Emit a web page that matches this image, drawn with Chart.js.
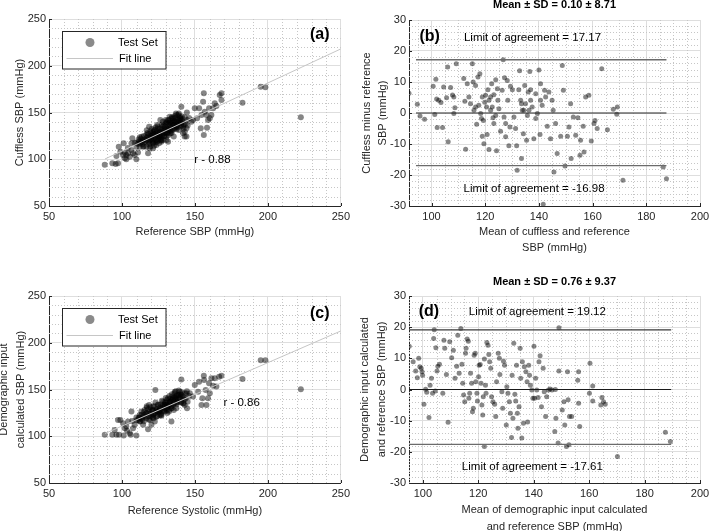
<!DOCTYPE html>
<html><head><meta charset="utf-8">
<script src="https://cdn.jsdelivr.net/npm/chart.js@4.4.1/dist/chart.umd.min.js"></script>
<style>
html,body{margin:0;padding:0;background:#fff;overflow:hidden;width:709px;height:531px;}
canvas{position:absolute;}
</style></head><body>
<canvas id="cA" width="354" height="265" style="left:0;top:0"></canvas>
<canvas id="cB" width="360" height="265" style="left:354px;top:0"></canvas>
<canvas id="cC" width="354" height="266" style="left:0;top:265px"></canvas>
<canvas id="cD" width="360" height="266" style="left:354px;top:265px"></canvas>
<script>
// ---------- DATA ----------
// (a) Test set: reference SBP vs cuffless SBP (mmHg)
const aRefSBP = [88.2,93.4,95.7,97.3,96.2,97.8,98.9,101.2,100.7,101.9,103.0,104.2,106.5,107.6,108.7,109.9,107.1,108.7,109.9,112.2,113.3,114.5,115.6,116.7,117.9,118.6,119.0,120.2,121.3,121.8,122.5,123.6,124.1,124.7,125.4,125.9,126.3,127.0,127.7,128.2,129.3,130.0,130.5,131.1,131.6,132.3,132.7,133.2,133.9,134.6,135.0,135.5,136.2,136.9,137.3,138.5,139.1,139.6,140.7,140.7,141.9,143.0,144.2,144.2,144.6,147.6,148.7,149.9,151.5,152.9,154.0,154.5,156.1,156.1,155.6,156.7,157.9,158.3,159.0,159.7,160.2,161.3,162.5,163.6,164.7,167.0,168.2,168.2,182.6,195.1,198.3,222.6,
111.0,112.2,114.5,116.7,117.9,119.0,120.2,121.3,122.5,123.6,124.7,125.9,127.0,128.2,129.3,130.5,131.6,132.7,133.9,135.0,136.2,137.3,138.5,139.6,140.7,141.9,143.0,116.7,119.0,121.3,123.6,127.0,130.5,131.6,106.5,105.3,103.0,111.0,
113.0,115.0,117.5,118.0,120.0,121.0,122.0,123.0,124.0,125.0,126.0,127.5,128.5,129.5,130.5,131.5,132.5,133.5,134.5,135.5,136.5,137.5,138.5,139.5,140.5,141.5,142.5,119.5,122.0,126.5,104.0,102.0,120.5,124.5,128.0,
110,111.5,112.5,113.5,114,115,116,117,118,118.5,119.5,120,120.8,121.5,122,122.8,123.5,124,124.8,125.5,126,126.8,127.3,128,128.8,129.5,130,130.8,131.3,132,132.5,133,133.6,134.2,134.8,135.4,136,136.6,137.2,137.8,138.3,139,139.8,140.3,141,141.6,142.2,143,143.6,144.5,145,146,112,119,126,133,121,129,136,140,124,131,138,115,127,134,117,123,130,137];
const aCufflessSBP = [94.2,95.6,94.9,95.6,103.5,113.5,108.1,117.0,104.5,101.0,99.9,106.3,117.0,106.3,104.5,99.9,122.4,117.7,113.5,123.4,118.8,113.5,121.3,125.9,106.3,134.8,120.6,127.7,117.0,124.2,131.3,120.6,136.6,127.7,117.0,129.5,142.0,124.2,134.8,120.6,131.3,138.4,124.2,127.7,142.0,133.1,145.5,127.7,138.4,131.3,143.8,124.2,140.2,134.8,147.3,142.0,131.3,143.8,156.2,136.6,127.7,124.2,124.2,133.1,142.0,140.2,142.0,154.5,143.8,154.5,133.1,147.3,170.5,125.9,161.6,150.9,147.3,133.8,142.0,154.5,143.8,147.3,154.5,159.8,157.0,168.7,170.5,163.4,160.5,177.6,176.9,144.8,
116.3,113.5,120.6,120.6,124.2,117.0,122.4,129.5,120.6,125.9,120.6,124.2,131.3,127.7,124.2,133.1,136.6,131.3,143.8,136.6,133.1,140.2,147.3,138.4,142.0,134.8,129.5,113.5,111.7,111.7,115.2,118.8,120.6,118.8,109.9,102.8,104.5,107.1,
122.0,118.0,128.0,119.0,125.0,120.0,127.0,118.0,130.0,123.0,133.0,126.0,136.0,129.0,140.0,131.0,139.0,134.0,141.0,137.0,144.0,135.0,139.0,146.0,139.0,143.0,137.0,114.0,114.5,120.5,112.0,107.0,132.5,135.0,140.0,
118,121,117,124,116,125,119,123,127,116,130,121,126,118,131,123,128,119,133,125,129,122,137,130,125,135,128,139,133,126,142,136,130,145,139,133,146,138,132,143,137,149,141,135,146,140,133,145,138,150,136,144,119,123,126,139,126,133,141,144,125,129,134,114,120,128,131,134,142,149];
const aFitX = [88.4, 250];
const aFitY = [100.3, 218];

// (b) Bland-Altman: mean of cuffless & reference vs difference
const bMeanSBP = [91.6,94.7,95.7,97.4,100.6,101.2,101.6,101.9,102.7,103.5,104.1,102.1,104.5,105.6,106.0,106.2,107.1,107.8,108.3,108.3,108.7,109.2,112.0,112.4,112.7,113.3,114.5,115.2,115.5,116.4,116.4,116.8,117.3,118.0,118.3,118.6,119.3,118.9,119.5,119.8,120.5,120.7,121.0,121.4,122.0,122.4,122.6,123.2,123.2,124.2,123.9,124.5,125.1,125.7,126.3,126.7,127.2,127.6,128.2,128.4,128.8,129.4,130.1,130.7,131.3,131.7,131.9,132.5,132.8,133.2,133.5,133.8,134.2,134.7,135.0,135.4,135.7,136.0,136.6,136.9,137.5,138.1,138.8,139.4,140.0,140.4,140.6,141.2,141.6,142.1,142.5,143.1,143.7,144.3,144.9,145.3,145.6,146.2,146.8,148.1,148.7,149.1,149.7,150.6,151.2,151.8,152.0,152.8,153.7,154.5,155.3,155.5,156.5,156.8,157.4,158.6,159.5,160.5,160.9,161.7,163.4,165.5,167.7,169.2,169.0,171.3,186.3,187.5,
120.1,121.4,122.0,122.9,123.9,124.7,127.0,127.6,129.2,133.5,134.4,136.3,136.9,138.8,140.6,118.9,117.6,115.8,113.9];
const bDiffSBP = [6.4,2.8,-1.0,-2.0,8.6,-0.5,10.9,4.5,4.1,3.4,-4.7,-4.7,8.4,4.9,14.8,-9.3,8.2,5.8,5.2,-0.2,1.7,15.9,11.1,3.8,-11.7,9.4,3.0,15.9,10.0,8.9,1.9,-3.6,11.6,12.7,-0.2,-1.8,-2.4,-7.5,-9.9,3.5,1.9,-6.9,7.5,-11.8,5.2,9.4,1.9,5.9,-3.4,-12.2,10.7,7.8,1.4,-5.9,7.3,17.2,11.4,-7.7,10.5,4.1,-10.6,8.6,7.5,-1.3,-5.0,-10.6,-18.5,7.5,13.6,4.1,-14.7,0.9,-6.7,8.9,3.0,-8.8,-0.8,6.8,13.4,7.5,1.9,-8.3,6.2,-0.2,13.9,-6.9,9.4,2.5,-29.4,7.3,5.2,-4.3,6.8,-8.3,4.1,0.9,-19.0,-3.4,-13.1,-7.5,15.3,7.3,-17.1,-7.5,-4.5,3.0,-14.7,-1.3,-7.2,-1.5,-13.6,-8.8,-4.3,-12.6,5.2,5.7,-9.0,-3.4,-2.4,-5.0,14.3,-5.4,1.2,1.9,-0.4,-21.7,-17.4,-21.2,
5.7,4.1,0.9,-1.5,-0.8,4.1,-1.3,-3.4,-4.5,3.0,0.9,0.9,4.1,-1.8,4.1,5.2,2.5,0.9,5.2];
const bLineX = [94.2, 187.5];
const bLineY = [0, 17.17, -16.98];

// (c) Test set: reference systolic vs demographic-input calculated SBP
const cRefSystolic = [88.2,93.4,96.2,98.0,101.2,106.0,109.9,95.0,97.3,98.9,100.7,101.9,103.0,104.2,106.5,107.1,108.7,109.9,111.0,112.2,113.3,114.5,115.6,116.7,117.9,118.6,119.0,120.2,121.3,122.5,122.9,123.6,124.7,125.9,127.0,128.2,129.3,130.5,131.6,132.3,133.2,133.9,134.6,135.0,136.2,136.9,137.3,138.5,139.6,140.7,140.7,141.9,143.0,144.2,144.6,146.5,148.7,149.9,152.2,152.9,154.5,155.1,156.1,156.3,157.4,157.9,159.0,159.7,160.2,161.3,162.5,163.6,164.7,166.6,168.2,182.6,195.1,198.3,222.6,
116.7,119.0,121.3,123.6,124.7,127.0,128.2,129.3,130.5,131.6,132.7,133.9,135.0,136.2,137.3,139.6,140.7,141.9,114.5,120.2,112.2,107.6,105.3,
113.5,115.5,118.0,120.5,122.0,124.0,125.5,126.5,128.5,130.0,131.0,132.5,134.0,135.5,136.5,138.0,139.0,142.5,117.0,121.5,103.5,
110,111.5,112.5,113.5,114,115,116,117,118,118.5,119.5,120,120.8,121.5,122,122.8,123.5,124,124.8,125.5,126,126.8,127.3,128,128.8,129.5,130,130.8,131.3,132,132.5,133,133.6,134.2,134.8,135.4,136,136.6,137.2,137.8,138.3,139,139.8,140.3,141,141.6,142.2,143,143.6,144.5,145,146,112,119,126,133,121,129,136,140,124,131,138,115,127,134,117,123,130,137];
const cDemographicSBP = [101.5,101.5,101.5,101.5,100.8,101.5,100.8,106.8,117.5,117.5,113.9,108.6,110.4,115.7,126.4,116.4,112.2,120.0,117.5,122.8,126.4,121.0,128.2,124.6,107.6,133.5,126.4,121.0,131.7,115.7,149.5,126.4,133.5,122.8,130.0,137.0,126.4,133.5,140.6,126.4,137.0,115.7,142.4,133.5,147.7,138.8,130.0,144.2,147.7,160.8,137.0,142.4,133.5,145.9,130.0,145.9,142.4,154.8,147.7,158.3,133.5,140.6,164.7,160.1,149.5,133.5,140.6,156.6,145.9,161.9,154.1,161.9,153.1,163.7,164.7,161.2,181.4,181.4,150.2,
119.3,117.5,122.8,121.0,126.4,122.8,128.1,133.5,128.1,131.7,137.0,130.0,140.6,135.3,142.4,140.6,144.2,135.3,112.2,112.2,115.7,108.6,103.3,
119.0,123.0,121.5,128.0,124.0,129.0,127.0,134.0,131.0,136.0,125.0,134.0,139.0,128.0,141.0,136.0,143.5,139.0,130.5,119.0,106.0,
117,120,116,123,118,126,121,125,129,118,131,123,127,120,132,125,129,121,134,126,131,124,138,132,127,136,130,139,134,128,143,137,132,145,139,135,146,140,134,144,139,149,142,136,147,141,135,146,140,148,137,143,120,124,128,140,128,134,142,145,127,131,137,116,122,130,132,136,141,148];
const cFitX = [88.4, 250];
const cFitY = [103.0, 212.6];

// (d) Bland-Altman: mean of demographic-input calculated & reference vs difference
const dMeanSBP = [95.1,96.5,97.4,98.0,98.5,98.9,99.4,99.7,99.9,101.0,101.4,100.4,102.2,102.6,103.1,103.5,103.9,104.1,104.5,104.7,105.1,105.4,106.0,107.2,107.6,107.9,108.5,109.1,109.7,110.4,111.0,111.6,112.2,112.6,113.1,113.7,114.1,114.4,114.7,115.1,115.4,115.6,116.0,116.4,116.6,116.9,117.2,117.6,117.9,118.2,118.5,118.9,119.1,119.5,119.7,120.1,120.3,120.7,121.0,121.3,121.6,121.8,122.2,122.6,122.8,123.1,123.5,123.8,124.1,124.5,124.8,125.3,125.9,126.3,126.6,127.2,127.6,127.8,128.5,128.8,129.1,129.5,130.1,130.3,130.7,131.2,131.6,132.0,132.2,132.5,132.8,133.2,133.5,133.8,134.1,134.3,134.7,135.1,135.3,135.7,135.9,136.3,136.6,137.2,137.6,137.8,138.2,138.5,138.8,139.3,139.7,140.1,140.3,140.7,141.1,141.6,141.9,142.3,142.8,143.4,143.8,144.3,144.7,145.3,145.9,146.6,147.8,147.6,148.0,148.8,149.1,149.1,150.3,150.9,151.2,151.8,152.2,152.4,152.7,152.9,153.7,155.9,156.2,156.2,156.6,160.3,160.1,161.3,161.3,164.2,164.6,165.2,165.8,170.2,187.5,189.3,122.2];
const dDiffSBP = [13.9,8.9,5.9,3.8,10.0,7.3,6.8,5.7,4.6,0.1,-0.9,-4.7,-9.0,1.4,3.6,-1.2,16.4,19.2,-0.5,13.4,5.9,7.5,8.1,-1.2,15.8,13.2,4.8,-10.5,15.3,10.2,12.6,3.6,7.5,17.4,5.2,19.6,8.1,2.0,-1.8,-3.9,11.6,13.2,16.2,15.5,-2.8,-1.2,5.2,2.0,-7.1,-6.0,11.0,11.6,2.5,-1.2,-3.7,4.1,7.8,8.0,2.0,-5.0,-8.2,-2.3,9.8,1.4,-1.2,15.1,14.2,11.2,8.9,6.8,-2.3,-3.9,-4.7,-8.7,2.5,11.6,10.0,4.8,-0.7,-6.0,9.1,7.8,-11.4,0.9,-1.2,-3.9,-7.6,-15.4,4.6,-9.2,14.8,-1.5,-3.7,7.8,-7.6,-12.4,-5.5,13.2,3.6,-15.6,8.9,-10.8,7.3,5.7,2.5,-10.4,7.8,4.6,1.4,-0.2,-2.8,13.9,-2.8,3.6,-0.2,-2.6,8.9,10.8,-5.5,6.8,-0.7,-8.7,-2.3,-0.2,0.2,-0.2,0.0,-13.5,-9.2,-17.2,5.9,19.8,-6.6,-3.9,-11.4,-18.3,5.7,-3.3,-17.7,-8.7,-8.7,3.0,5.7,-4.4,-11.9,8.4,-1.2,-3.7,1.1,-5.0,-2.6,-3.9,-4.7,-21.5,-13.7,-16.7,-18.3];
const dLineX = [95, 189.6];
const dLineY = [0, 19.12, -17.61];

// tick labels
const scatterTicks = [50, 100, 150, 200, 250];
const baXTicks = [100, 120, 140, 160, 180, 200];
const baYTicks = [-30, -20, -10, 0, 10, 20, 30];

// ---------- RENDERING ----------
const FONT = "'Liberation Sans', Arial, Helvetica, sans-serif";
Chart.defaults.font.family = FONT;
Chart.defaults.color = '#262626';
const pts = (xs, ys) => xs.map((x, i) => ({x, y: ys[i]}));

const decor = {
  id: 'decor',
  beforeDatasetsDraw(chart, args, o) {
    const {ctx, chartArea: ca} = chart;
    const xs = chart.scales.x, ys = chart.scales.y;
    ctx.save();
    ctx.strokeStyle = '#c6c6c6'; ctx.lineWidth = 1; ctx.setLineDash([1, 2]);
    const majX = xs.ticks.map(t => t.value), majY = ys.ticks.map(t => t.value);
    for (let v = Math.ceil(xs.min / o.minorX) * o.minorX; v < xs.max; v += o.minorX) {
      if (majX.some(m => Math.abs(m - v) < 1e-6)) continue;
      const p = Math.round(xs.getPixelForValue(v)) + 0.5;
      ctx.beginPath(); ctx.moveTo(p, ca.top); ctx.lineTo(p, ca.bottom); ctx.stroke();
    }
    for (let v = Math.ceil(ys.min / o.minorY) * o.minorY; v < ys.max; v += o.minorY) {
      if (majY.some(m => Math.abs(m - v) < 1e-6)) continue;
      const p = Math.round(ys.getPixelForValue(v)) + 0.5;
      ctx.beginPath(); ctx.moveTo(ca.left, p); ctx.lineTo(ca.right, p); ctx.stroke();
    }
    ctx.restore();
  },
  afterDraw(chart, args, o) {
    const {ctx, chartArea: ca} = chart;
    const xs = chart.scales.x, ys = chart.scales.y;
    ctx.save();
    ctx.strokeStyle = '#262626'; ctx.lineWidth = 1;
    xs.ticks.forEach(t => { const p = Math.round(xs.getPixelForValue(t.value)) + 0.5;
      ctx.beginPath(); ctx.moveTo(p, ca.bottom); ctx.lineTo(p, ca.bottom - 3); ctx.stroke(); });
    ys.ticks.forEach(t => { const p = Math.round(ys.getPixelForValue(t.value)) + 0.5;
      ctx.beginPath(); ctx.moveTo(ca.left, p); ctx.lineTo(ca.left + 3, p); ctx.stroke(); });
    ctx.textBaseline = 'middle';
    (o.texts || []).forEach(t => {
      ctx.font = t.font; ctx.fillStyle = '#000'; ctx.textAlign = t.align || 'center';
      ctx.fillText(t.text, xs.getPixelForValue(t.x), ys.getPixelForValue(t.y));
    });
    if (o.legend) {
      const L = ca.left + 12.5, T = ca.top + 12, W = 103.5, H = 37.5;
      ctx.fillStyle = '#fff'; ctx.fillRect(L, T, W, H);
      ctx.strokeStyle = '#262626'; ctx.lineWidth = 1; ctx.strokeRect(Math.round(L) + 0.5, Math.round(T) + 0.5, W, H);
      const ds = chart.data.datasets;
      const sc = ds.find(d => d.type !== 'line'), ln = ds.find(d => d.type === 'line');
      ctx.fillStyle = '#8a8a8a';
      ctx.beginPath(); ctx.arc(L + 28.5, T + 11.5, 4.5, 0, Math.PI * 2); ctx.fill();
      ctx.strokeStyle = '#c6c6c6'; ctx.beginPath(); ctx.moveTo(L + 5, T + 27.5); ctx.lineTo(L + 51.5, T + 27.5); ctx.stroke();
      ctx.fillStyle = '#000'; ctx.font = '11px ' + FONT; ctx.textAlign = 'left';
      ctx.fillText(sc.label, L + 56.5, T + 11.5);
      ctx.fillText(ln.label, L + 57.5, T + 27.5);
    }
    if (o.title) {
      ctx.font = 'bold 11px ' + FONT; ctx.fillStyle = '#000'; ctx.textAlign = 'center';
      ctx.fillText(o.title, (ca.left + ca.right) / 2, o.titleY);
    }
    ctx.restore();
  }
};

function axis(min, max, ticks, titleText, titlePad, fitSize, horizontal) {
  return {
    type: 'linear', min, max,
    afterBuildTicks: s => { s.ticks = ticks.map(v => ({value: v})); },
    ticks: {color: '#262626', font: {size: 11}, padding: horizontal ? 4 : 3, maxRotation: 0, autoSkip: false},
    grid: {color: '#dedede', lineWidth: 1, drawTicks: false},
    border: {display: true, color: '#262626', width: 1},
    title: {display: true, text: titleText, color: '#262626', font: {size: 11, lineHeight: 1.5}, padding: titlePad},
    afterFit: s => { if (horizontal) s.height = fitSize; else s.width = fitSize; }
  };
}

function makeChart(id, datasets, scales, padding, decorOpts) {
  return new Chart(document.getElementById(id), {
    type: 'scatter',
    data: {datasets},
    options: {
      responsive: false, animation: false, events: [],
      layout: {padding},
      scales,
      plugins: {legend: {display: false}, tooltip: {enabled: false}, decor: decorOpts}
    },
    plugins: [decor]
  });
}

const scatterDot = {backgroundColor: 'rgba(0,0,0,0.48)', borderWidth: 0, pointRadius: 3, order: 2};
const baDot = {backgroundColor: 'rgba(0,0,0,0.47)', borderWidth: 0, pointRadius: 2.5, order: 2};
const fitLine = {type: 'line', borderColor: '#c6c6c6', borderWidth: 1, pointRadius: 0, order: 0};
const hline = (xs, y, color, w) => ({type: 'line', data: pts(xs, [y, y]), borderColor: color, borderWidth: w, pointRadius: 0, order: 0});
const lbl = (x, y, text, font) => ({x, y, text, font});

// (a)
makeChart('cA', [
  Object.assign({label: 'Fit line', data: pts(aFitX, aFitY)}, fitLine),
  Object.assign({label: 'Test Set', data: pts(aRefSBP, aCufflessSBP)}, scatterDot)
], {
  x: axis(50, 250, scatterTicks, 'Reference SBP (mmHg)', {bottom: 25}, 59, true),
  y: axis(50, 250, scatterTicks, 'Cuffless SBP (mmHg)', {top: 11.75}, 49, false)
}, {top: 19, right: 13, left: 0, bottom: 0}, {
  minorX: 10, minorY: 10, legend: true,
  texts: [lbl(235.6, 232.9, '(a)', 'bold 16px ' + FONT), lbl(162, 99, 'r - 0.88', '11.5px ' + FONT)]
});

// (b)
makeChart('cB', [
  hline(bLineX, bLineY[1], '#6b6b6b', 1.3),
  hline(bLineX, bLineY[0], '#262626', 1.2),
  hline(bLineX, bLineY[2], '#6b6b6b', 1.3),
  Object.assign({label: 'Test Set', data: pts(bMeanSBP, bDiffSBP)}, baDot)
], {
  x: axis(91.6, 200, baXTicks, ['Mean of cuffless and reference', 'SBP (mmHg)'], {bottom: 8.55}, 59, true),
  y: axis(-30, 30, baYTicks, ['Cuffless minus reference', 'SBP (mmHg)'], {top: 4.45}, 55, false)
}, {top: 20, right: 14, left: 0, bottom: 0}, {
  minorX: 5, minorY: 2, title: 'Mean \u00b1 SD = 0.10 \u00b1 8.71', titleY: 4.5,
  texts: [lbl(99.3, 24.6, '(b)', 'bold 16px ' + FONT),
          lbl(137.6, 24.1, 'Limit of agreement = 17.17', '11.5px ' + FONT),
          lbl(138.2, -24.4, 'Limit of agreement = -16.98', '11.5px ' + FONT)]
});

// (c)
makeChart('cC', [
  Object.assign({label: 'Fit line', data: pts(cFitX, cFitY)}, fitLine),
  Object.assign({label: 'Test Set', data: pts(cRefSystolic, cDemographicSBP)}, scatterDot)
], {
  x: axis(50, 250, scatterTicks, 'Reference Systolic (mmHg)', {bottom: 12}, 48, true),
  y: axis(50, 250, scatterTicks, ['Demographic input', 'calculated SBP (mmHg)'], {top: -3.95}, 49, false)
}, {top: 31, right: 13, left: 0, bottom: 0}, {
  minorX: 10, minorY: 10, legend: true,
  texts: [lbl(235.6, 231.2, '(c)', 'bold 16px ' + FONT), lbl(182, 136, 'r - 0.86', '11.5px ' + FONT)]
});

// (d)
makeChart('cD', [
  hline(dLineX, dLineY[1], '#3a3a3a', 1.3),
  hline(dLineX, dLineY[0], '#1a1a1a', 1.2),
  hline(dLineX, dLineY[2], '#6b6b6b', 1.3),
  Object.assign({label: 'Test Set', data: pts(dMeanSBP, dDiffSBP)}, baDot)
], {
  x: axis(95, 200, baXTicks, ['Mean of demographic input calculated', 'and reference SBP (mmHg)'], {bottom: -4}, 48, true),
  y: axis(-30, 30, baYTicks, ['Demographic input calculated', 'and reference SBP (mmHg)'], {top: 2.75}, 55, false)
}, {top: 31, right: 14, left: 0, bottom: 0}, {
  minorX: 5, minorY: 2, title: 'Mean \u00b1 SD = 0.76 \u00b1 9.37', titleY: 16.7,
  texts: [lbl(102.2, 24.9, '(d)', 'bold 16px ' + FONT),
          lbl(141.3, 24.9, 'Limit of agreement = 19.12', '11.5px ' + FONT),
          lbl(139.5, -24.7, 'Limit of agreement = -17.61', '11.5px ' + FONT)]
});
</script>
</body></html>
